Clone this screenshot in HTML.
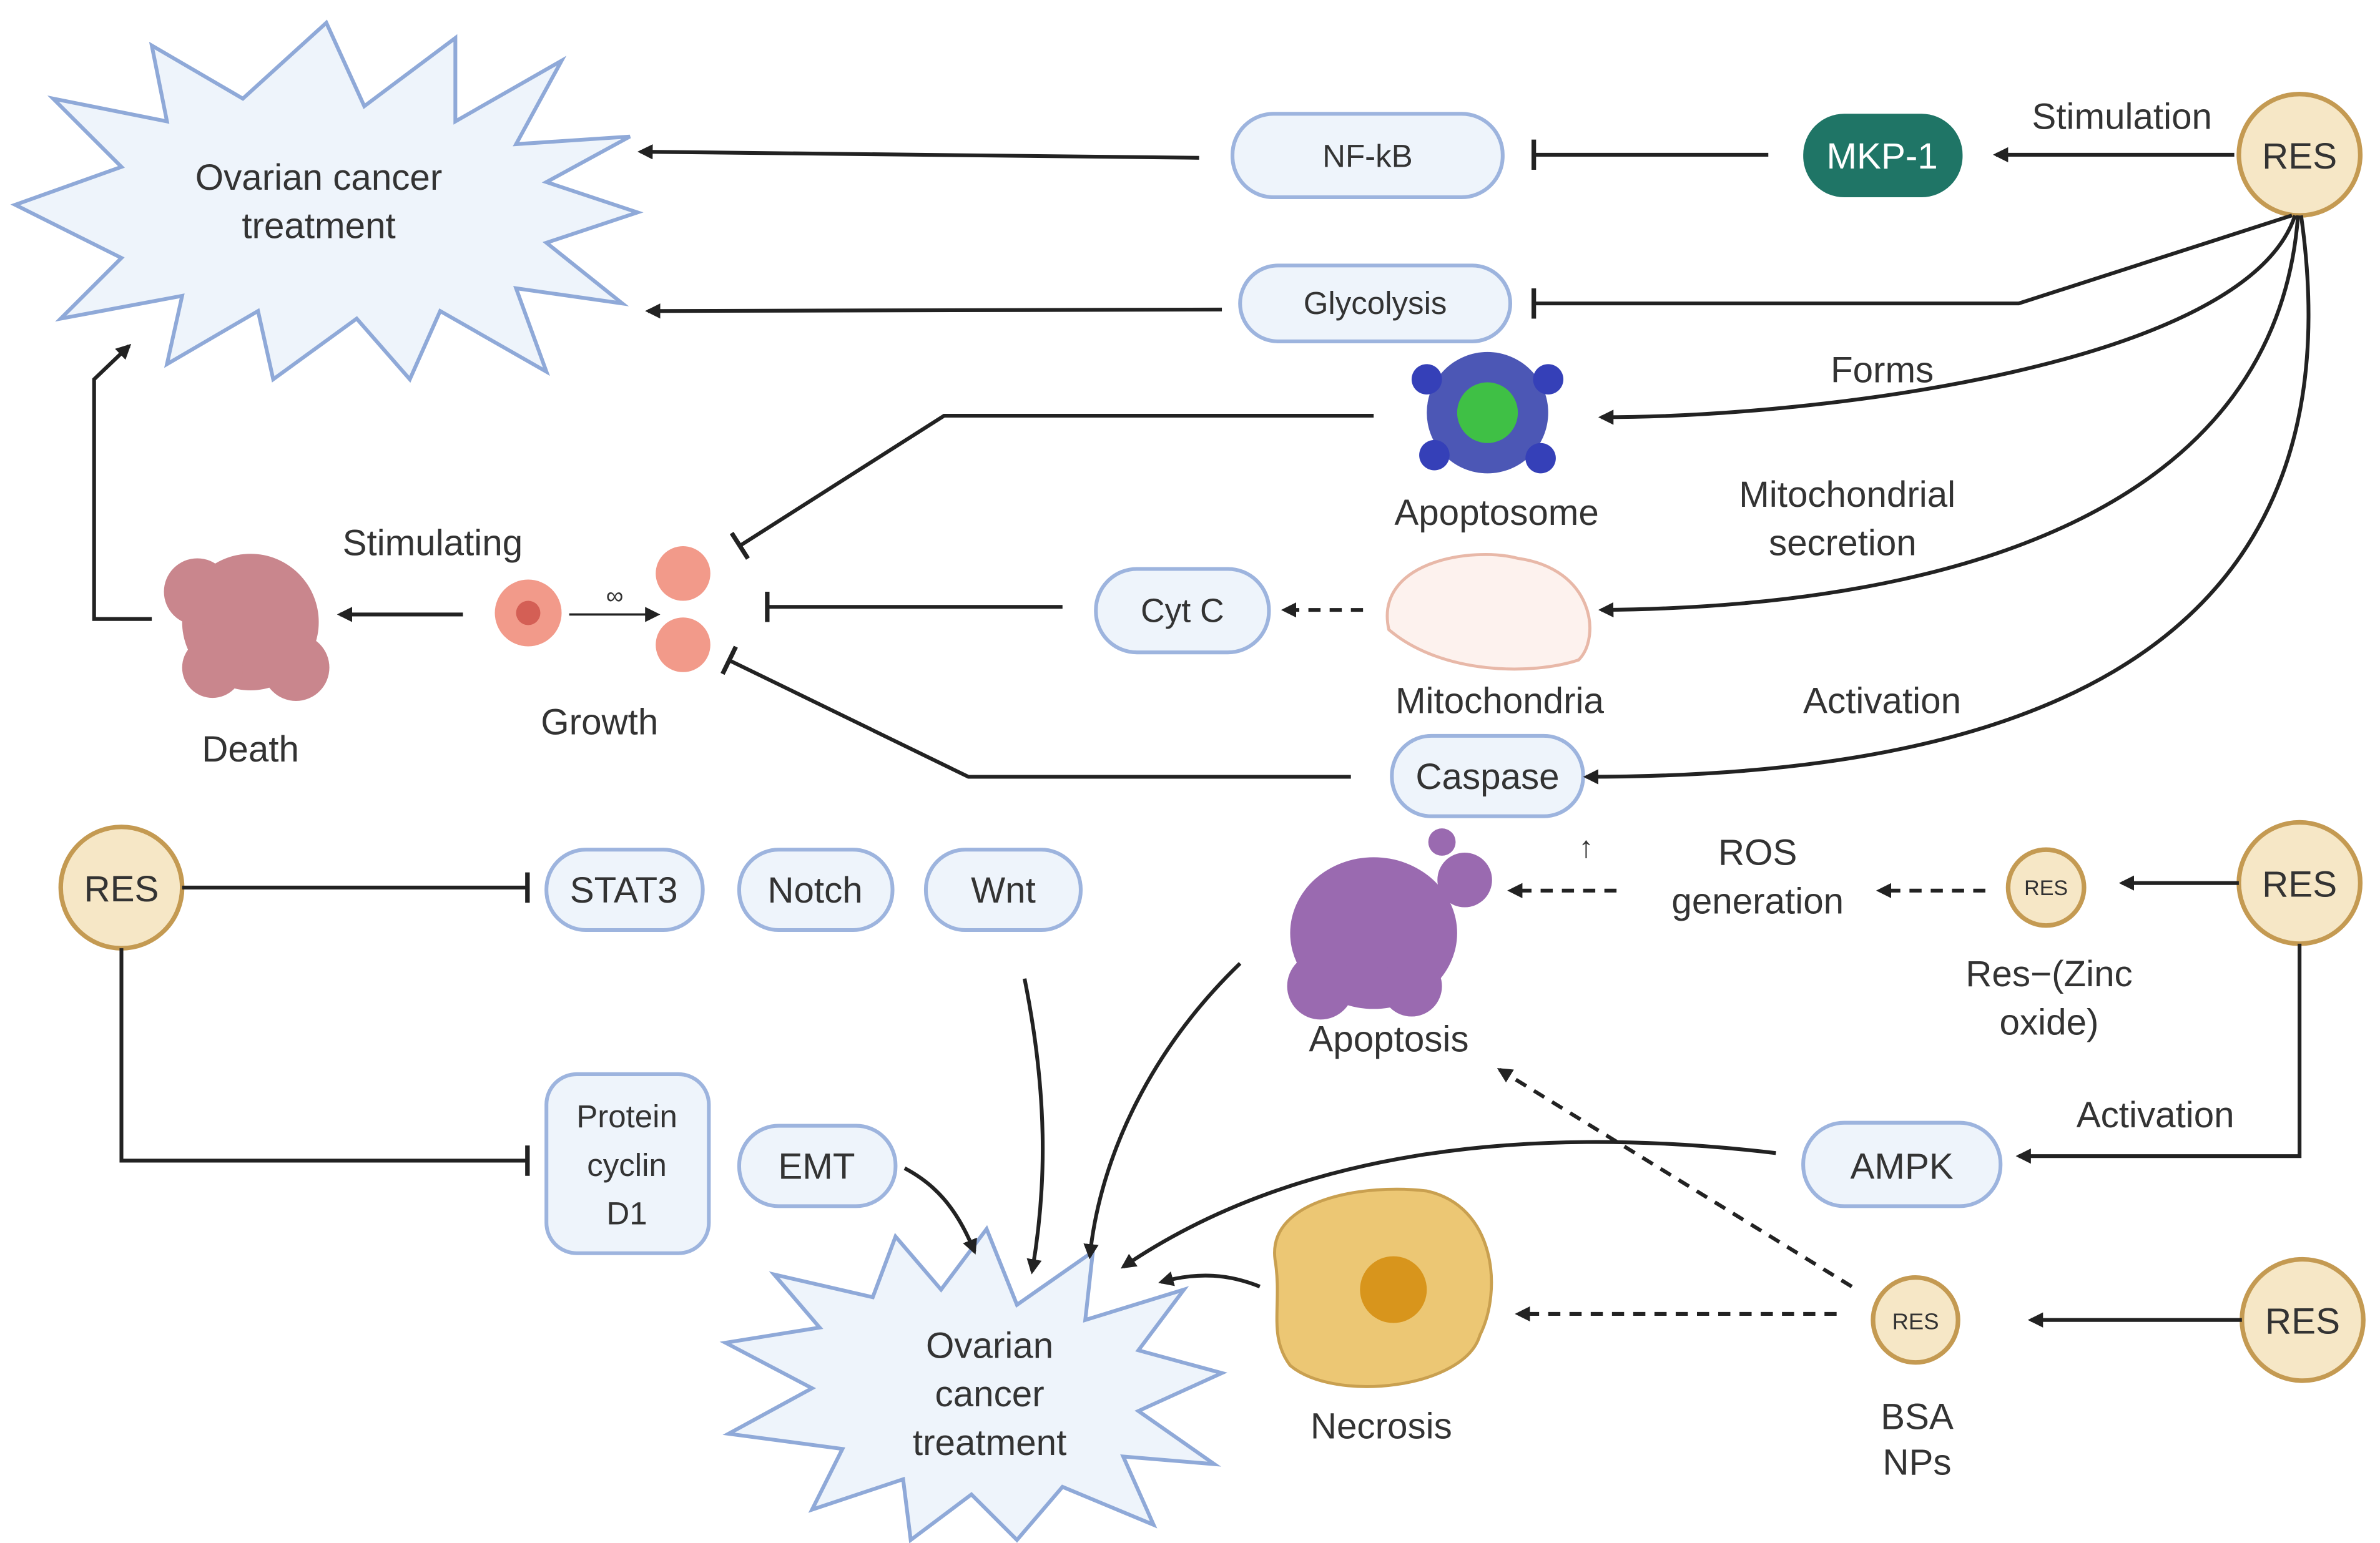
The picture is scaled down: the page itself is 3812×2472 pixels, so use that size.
<!DOCTYPE html>
<html><head><meta charset="utf-8"><style>
html,body{margin:0;padding:0;background:#fff}
svg{display:block}
text{font-family:"Liberation Sans",sans-serif;fill:#333}
</style></head><body>
<svg width="3812" height="2472" viewBox="0 0 1568 1017" preserveAspectRatio="none" xmlns="http://www.w3.org/2000/svg">
<defs>
<marker id="a" markerWidth="10" markerHeight="10" refX="8" refY="5" orient="auto" markerUnits="userSpaceOnUse"><path d="M0,0 L10,5 L0,10 Z" fill="#222"/></marker>
<marker id="t" markerWidth="4" markerHeight="20" refX="2" refY="10" orient="auto" markerUnits="userSpaceOnUse"><rect x="0" y="0" width="3" height="20" fill="#222"/></marker>
</defs>
<rect width="1568" height="1017" fill="#fff"/>
<!-- starbursts -->
<polygon points="215,15 240,70 300,25 300,80 370,40 340,95 415,90 360,120 420,140 360,160 410,200 340,190 360,245 290,205 270,250 235,210 180,250 170,205 110,240 120,195 40,210 80,170 10,135 80,110 35,65 110,80 100,30 160,65" fill="#eef4fb" stroke="#8fa9d8" stroke-width="2.5"/>
<polygon points="650,810 670,860 720,825 715,870 780,850 750,890 805,905 750,930 800,965 740,960 760,1005 700,980 670,1015 640,985 600,1015 595,975 535,995 555,955 480,945 535,915 478,885 540,875 510,840 575,855 590,815 620,850" fill="#eef4fb" stroke="#8fa9d8" stroke-width="2.5"/>
<text x="210" y="125" font-size="24" text-anchor="middle">Ovarian cancer</text>
<text x="210" y="157" font-size="24" text-anchor="middle">treatment</text>
<text x="652" y="895" font-size="24" text-anchor="middle">Ovarian</text>
<text x="652" y="927" font-size="24" text-anchor="middle">cancer</text>
<text x="652" y="959" font-size="24" text-anchor="middle">treatment</text>
<!-- pills -->
<g fill="#eef4fb" stroke="#9db4de" stroke-width="2.5">
<rect x="812" y="75" width="178" height="55" rx="27"/>
<rect x="817" y="175" width="178" height="50" rx="25"/>
<rect x="722" y="375" width="114" height="55" rx="27"/>
<rect x="917" y="485" width="126" height="53" rx="26"/>
<rect x="360" y="560" width="103" height="53" rx="26"/>
<rect x="487" y="560" width="101" height="53" rx="26"/>
<rect x="610" y="560" width="102" height="53" rx="26"/>
<rect x="360" y="708" width="107" height="118" rx="20"/>
<rect x="487" y="742" width="103" height="53" rx="26"/>
<rect x="1188" y="740" width="130" height="55" rx="27"/>
</g>
<rect x="1188" y="75" width="105" height="55" rx="27" fill="#1f7566"/>
<text x="1240" y="111" font-size="24" text-anchor="middle" fill="#fff" style="fill:#fff">MKP-1</text>
<text x="901" y="110" font-size="21" text-anchor="middle">NF-kB</text>
<text x="906" y="207" font-size="21" text-anchor="middle">Glycolysis</text>
<text x="779" y="410" font-size="22" text-anchor="middle">Cyt C</text>
<text x="980" y="520" font-size="24" text-anchor="middle">Caspase</text>
<text x="411" y="595" font-size="24" text-anchor="middle">STAT3</text>
<text x="537" y="595" font-size="24" text-anchor="middle">Notch</text>
<text x="661" y="595" font-size="24" text-anchor="middle">Wnt</text>
<text x="413" y="743" font-size="21" text-anchor="middle">Protein</text>
<text x="413" y="775" font-size="21" text-anchor="middle">cyclin</text>
<text x="413" y="807" font-size="21" text-anchor="middle">D1</text>
<text x="538" y="777" font-size="24" text-anchor="middle">EMT</text>
<text x="1253" y="777" font-size="24" text-anchor="middle">AMPK</text>
<!-- RES circles -->
<g fill="#f6e7c6" stroke="#c49a52" stroke-width="3">
<circle cx="1515" cy="102" r="40"/><circle cx="80" cy="585" r="40"/>
<circle cx="1515" cy="582" r="40"/><circle cx="1517" cy="870" r="40"/>
<circle cx="1348" cy="585" r="25"/><circle cx="1262" cy="870" r="28"/>
</g>
<text x="1515" y="111" font-size="24" text-anchor="middle">RES</text>
<text x="80" y="594" font-size="24" text-anchor="middle">RES</text>
<text x="1515" y="591" font-size="24" text-anchor="middle">RES</text>
<text x="1517" y="879" font-size="24" text-anchor="middle">RES</text>
<text x="1348" y="590" font-size="14" text-anchor="middle">RES</text>
<text x="1262" y="876" font-size="15" text-anchor="middle">RES</text>
<!-- images approximations -->
<g>
<circle cx="980" cy="272" r="40" fill="#2d3aa8" opacity="0.85"/>
<circle cx="980" cy="272" r="20" fill="#3fc045"/>
<circle cx="940" cy="250" r="10" fill="#3540b8"/><circle cx="1020" cy="250" r="10" fill="#3540b8"/>
<circle cx="945" cy="300" r="10" fill="#3540b8"/><circle cx="1015" cy="302" r="10" fill="#3540b8"/>
</g>
<path d="M915,415 C905,370 970,360 1000,368 C1050,375 1055,420 1040,435 C1010,445 950,445 915,415Z" fill="#fdf2ee" stroke="#e8b8a8" stroke-width="2"/>
<g fill="#c0727a" opacity="0.85">
<circle cx="165" cy="410" r="45"/><circle cx="130" cy="390" r="22"/><circle cx="195" cy="440" r="22"/><circle cx="140" cy="440" r="20"/>
</g>
<circle cx="348" cy="404" r="22" fill="#f29a8a"/><circle cx="348" cy="404" r="8" fill="#d45f55"/>
<circle cx="450" cy="378" r="18" fill="#f29a8a"/><circle cx="450" cy="425" r="18" fill="#f29a8a"/>
<g fill="#9a6ab0"><ellipse cx="905" cy="615" rx="55" ry="50"/><circle cx="870" cy="650" r="22"/><circle cx="965" cy="580" r="18"/><circle cx="950" cy="555" r="9"/><circle cx="930" cy="650" r="20"/></g>
<path d="M840,830 C835,790 900,780 940,785 C985,795 990,850 975,880 C965,915 880,925 850,900 C835,880 845,860 840,830Z" fill="#ecc774" stroke="#c9a050" stroke-width="2"/>
<circle cx="918" cy="850" r="22" fill="#d8951c"/>
<!-- labels -->
<g font-size="24">
<text x="1398" y="85" text-anchor="middle">Stimulation</text>
<text x="1240" y="252" text-anchor="middle">Forms</text>
<text x="986" y="346" text-anchor="middle">Apoptosome</text>
<text x="1217" y="334" text-anchor="middle">Mitochondrial</text>
<text x="1214" y="366" text-anchor="middle">secretion</text>
<text x="988" y="470" text-anchor="middle">Mitochondria</text>
<text x="1240" y="470" text-anchor="middle">Activation</text>
<text x="285" y="366" text-anchor="middle">Stimulating</text>
<text x="395" y="484" text-anchor="middle">Growth</text>
<text x="165" y="502" text-anchor="middle">Death</text>
<text x="1158" y="570" text-anchor="middle">ROS</text>
<text x="1158" y="602" text-anchor="middle">generation</text>
<text x="1350" y="650" text-anchor="middle">Res−(Zinc</text>
<text x="1350" y="682" text-anchor="middle">oxide)</text>
<text x="915" y="693" text-anchor="middle">Apoptosis</text>
<text x="1420" y="743" text-anchor="middle">Activation</text>
<text x="910" y="948" text-anchor="middle">Necrosis</text>
<text x="1263" y="942" text-anchor="middle">BSA</text>
<text x="1263" y="972" text-anchor="middle">NPs</text>
<text x="405" y="398" font-size="16" text-anchor="middle">∞</text>
<text x="1045" y="565" font-size="20" text-anchor="middle">↑</text>
</g>
<!-- connectors -->
<g stroke="#222" stroke-width="2.5" fill="none">
<line x1="1472" y1="102" x2="1315" y2="102" marker-end="url(#a)"/>
<line x1="1165" y1="102" x2="1010" y2="102" marker-end="url(#t)"/>
<line x1="790" y1="104" x2="422" y2="100" marker-end="url(#a)"/>
<path d="M1510,142 L1330,200 L1010,200" marker-end="url(#t)"/>
<line x1="805" y1="204" x2="427" y2="205" marker-end="url(#a)"/>
<path d="M1512,142 C1480,240 1200,275 1055,275" marker-end="url(#a)"/>
<path d="M1514,142 C1500,330 1300,400 1055,402" marker-end="url(#a)"/>
<path d="M1516,142 C1560,450 1300,512 1045,512" marker-end="url(#a)"/>
<path d="M905,274 L622,274 L487,360" marker-end="url(#t)"/>
<line x1="700" y1="400" x2="505" y2="400" marker-end="url(#t)"/>
<path d="M890,512 L638,512 L480,435" marker-end="url(#t)"/>
<line x1="305" y1="405" x2="224" y2="405" marker-end="url(#a)"/>
<line x1="375" y1="405" x2="433" y2="405" stroke-width="1.5" marker-end="url(#a)"/>
<path d="M100,408 L62,408 L62,250 L85,228" marker-end="url(#a)"/>
<line x1="120" y1="585" x2="348" y2="585" marker-end="url(#t)"/>
<path d="M80,625 L80,765 L348,765" marker-end="url(#t)"/>
<path d="M1515,622 L1515,762 L1330,762" marker-end="url(#a)"/>
<line x1="1475" y1="582" x2="1398" y2="582" marker-end="url(#a)"/>
<line x1="1477" y1="870" x2="1338" y2="870" marker-end="url(#a)"/>
<path d="M1170,760 C1000,740 850,760 740,835" marker-end="url(#a)"/>
<path d="M830,848 C810,840 790,838 765,845" marker-end="url(#a)"/>
<path d="M817,635 C760,690 725,760 718,828" marker-end="url(#a)"/>
<path d="M675,645 C690,720 690,780 680,838" marker-end="url(#a)"/>
<path d="M596,770 C615,780 630,795 642,825" marker-end="url(#a)"/>
</g>
<g stroke="#222" stroke-width="2.5" fill="none" stroke-dasharray="8,6">
<line x1="898" y1="402" x2="846" y2="402" marker-end="url(#a)"/>
<line x1="1065" y1="587" x2="995" y2="587" marker-end="url(#a)"/>
<line x1="1308" y1="587" x2="1238" y2="587" marker-end="url(#a)"/>
<line x1="1220" y1="848" x2="988" y2="705" marker-end="url(#a)"/>
<line x1="1210" y1="866" x2="1000" y2="866" marker-end="url(#a)"/>
</g>
</svg>
</body></html>
